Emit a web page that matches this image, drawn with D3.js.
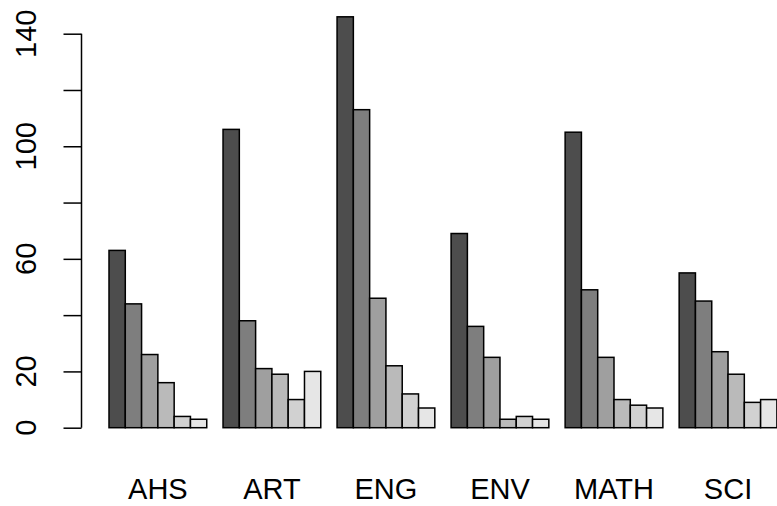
<!DOCTYPE html>
<html>
<head>
<meta charset="utf-8">
<script src="https://cdn.jsdelivr.net/npm/d3@7"></script>
<style>
  body { margin: 0; background: #fff; }
  svg { display: block; font-family: "Liberation Sans", Arial, Helvetica, sans-serif; }
</style>
</head>
<body>
<div id="chart"></div>
<script>
// departments along the x axis
const categories = ["AHS", "ART", "ENG", "ENV", "MATH", "SCI"];

// one array per bar within a group
const level1 = [63, 106, 146, 69, 105, 55];
const level2 = [44, 38, 113, 36, 49, 45];
const level3 = [26, 21, 46, 25, 25, 27];
const level4 = [16, 19, 22, 3, 10, 19];
const level5 = [4, 10, 12, 4, 8, 9];
const level6 = [3, 20, 7, 3, 7, 10];

const yTicks = [0, 20, 40, 60, 80, 100, 120, 140];
const yLabels = [0, 20, 60, 100, 140];   // R drops the labels that would overlap

// gray.colors(6)
const barColors = ["#4D4D4D", "#7E7E7E", "#9F9F9F", "#BABABA", "#D1D1D1", "#E6E6E6"];

const width = 777, height = 506;
const series = [level1, level2, level3, level4, level5, level6];

// barplot(beside = TRUE): each bar is one unit wide, one unit gap before every group
let bars = [];
categories.forEach((cat, g) => {
    series.forEach((vals, j) => {
        bars.push({cat: cat, level: j, value: vals[g], left: 1 + g * (series.length + 1) + j});
    });
});

let svg = d3.select("#chart").append("svg")
    .attr("width", width)
    .attr("height", height);

let x = d3.scaleLinear()
    .domain([1, 1 + categories.length * (series.length + 1) - 1])
    .range([109, 776.9]);

let y = d3.scaleLinear()
    .domain([0, 140])
    .range([427.7, 33.7]);

svg.append("g").selectAll("rect")
    .data(bars)
    .enter().append("rect")
    .attr("x", d => x(d.left))
    .attr("y", d => y(d.value))
    .attr("width", d => x(d.left + 1) - x(d.left))
    .attr("height", d => y(0) - y(d.value))
    .attr("fill", d => barColors[d.level])
    .attr("stroke", "#000")
    .attr("stroke-width", 1.5);

// y axis, R style: tick marks outside, rotated labels
let axisX = 81.5;
let yAxis = svg.append("g").attr("transform", "translate(" + axisX + ",0)");

yAxis.call(d3.axisLeft(y).tickValues(yTicks).tickSize(18).tickSizeOuter(0).tickFormat(""));
yAxis.select(".domain")
    .attr("d", "M0," + y(0) + "V" + y(140))
    .attr("stroke-width", 1.5);
yAxis.selectAll(".tick line").attr("stroke-width", 1.5);

yAxis.selectAll(".ylab")
    .data(yLabels)
    .enter().append("text")
    .attr("class", "ylab")
    .attr("transform", d => "translate(-46," + y(d) + ") rotate(-90)")
    .attr("text-anchor", "middle")
    .attr("fill", "#000")
    .style("font-size", "29px")
    .text(d => d);

// group labels under the bars
svg.append("g").selectAll("text")
    .data(categories)
    .enter().append("text")
    .attr("x", (d, g) => x(1 + g * (series.length + 1) + series.length / 2))
    .attr("y", 499)
    .attr("text-anchor", "middle")
    .style("font-size", "29px")
    .text(d => d);
</script>
</body>
</html>
